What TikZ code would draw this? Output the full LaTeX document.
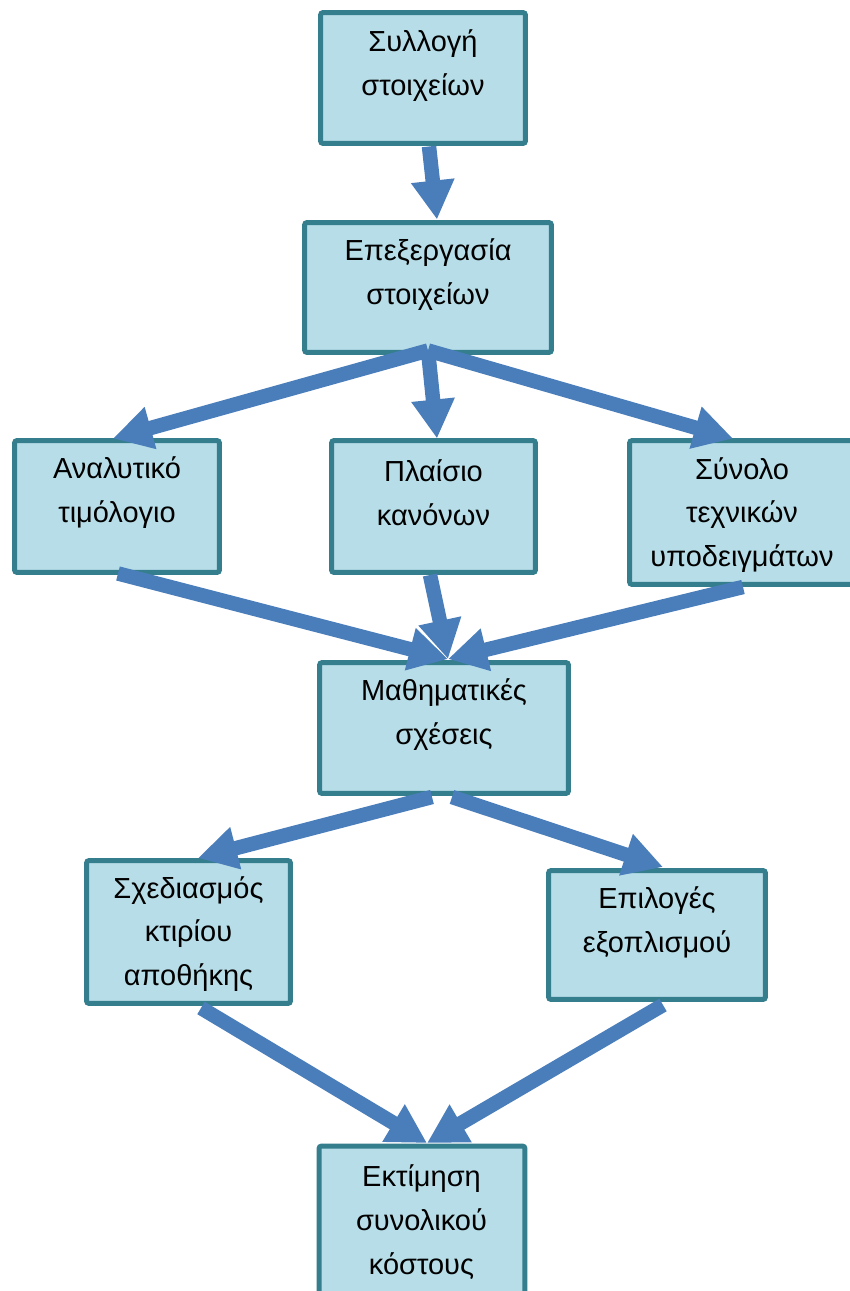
\documentclass[tikz,border=0pt]{standalone}
\usepackage{fontspec}
\setmainfont{Liberation Sans}
\usetikzlibrary{arrows.meta}
\definecolor{boxfill}{RGB}{183,222,232}
\definecolor{boxline}{RGB}{52,126,141}
\definecolor{flow}{RGB}{74,126,187}
\tikzset{
  box/.style={draw=boxline, fill=boxfill, line width=0.1cm, rounded corners=1.5pt,
              outer sep=0pt, inner sep=0pt},
  txt/.style={align=center, inner sep=0pt, font=\fontsize{16.5pt}{25pt}\selectfont},
  flowarrow/.style={draw=flow, line width=0.29cm,
                    -{Triangle[width=0.82cm,length=0.78cm]}},
}
\begin{document}
\begin{tikzpicture}[x=0.02cm, y=-0.02cm]
\useasboundingbox (0,0) rectangle (849,1291);

% boxes
\node[box, minimum width=4.10cm, minimum height=2.62cm] (A) at (423,78) {};
\node[box, minimum width=4.94cm, minimum height=2.60cm] (B) at (428,287.5) {};
\node[box, minimum width=4.10cm, minimum height=2.64cm] (C) at (117,506.5) {};
\node[box, minimum width=4.08cm, minimum height=2.64cm] (D) at (433.5,506.5) {};
\node[box, minimum width=4.50cm, minimum height=2.88cm] (E) at (742,512.5) {};
\node[box, minimum width=4.98cm, minimum height=2.62cm] (F) at (444,728) {};
\node[box, minimum width=4.08cm, minimum height=2.86cm] (G) at (188.5,932) {};
\node[box, minimum width=4.34cm, minimum height=2.58cm] (H) at (657,935) {};
\node[box, minimum width=4.12cm, minimum height=3.20cm] (I) at (422,1226) {};

% labels
\node[txt] (At) at (423,66) {Συλλογή\\στοιχείων};
\node[txt] (Bt) at (428,275) {Επεξεργασία\\στοιχείων};
\node[txt] (Ct) at (117,493) {Αναλυτικό\\τιμόλογιο};
\node[txt] (Dt) at (433.5,493) {Πλαίσιο\\κανόνων};
\node[txt] (Et) at (742,515) {Σύνολο\\τεχνικών\\υποδειγμάτων};
\node[txt] (Ft) at (444,715) {Μαθηματικές\\σχέσεις};
\node[txt] (Gt) at (188.5,934) {Σχεδιασμός\\κτιρίου\\αποθήκης};
\node[txt] (Ht) at (657,922) {Επιλογές\\εξοπλισμού};
\node[txt] (It) at (421.5,1222) {Εκτίμηση\\συνολικού\\κόστους};

% connectors
\draw[flowarrow] ([shift={(6,3)}]A.south) -- ([shift={(9,-3)}]B.north);
\draw[flowarrow] ([shift={(0,-2)}]B.south) -- ([shift={(-4,-2)}]C.north);
\draw[flowarrow] ([shift={(0,-2)}]B.south) -- ([shift={(3.5,-2)}]D.north);
\draw[flowarrow] ([shift={(0,-2)}]B.south) -- ([shift={(-9,-2)}]E.north);
\draw[flowarrow] ([shift={(1,1)}]C.south) -- ([shift={(4,-3.5)}]F.north);
\draw[flowarrow] ([shift={(-3.5,2.5)}]D.south) -- ([shift={(4,-3.5)}]F.north);
\draw[flowarrow] ([shift={(1,2.5)}]E.south) -- ([shift={(4,-3.5)}]F.north);
\draw[flowarrow] ([shift={(-12,3.5)}]F.south) -- ([shift={(9.5,-2.5)}]G.north);
\draw[flowarrow] ([shift={(8,3.5)}]F.south) -- ([shift={(6,-3.5)}]H.north);
\draw[flowarrow] ([shift={(12.5,4.5)}]G.south) -- ([shift={(5,-3)}]I.north);
\draw[flowarrow] ([shift={(6,5.5)}]H.south) -- ([shift={(5,-3)}]I.north);
\end{tikzpicture}
\end{document}
